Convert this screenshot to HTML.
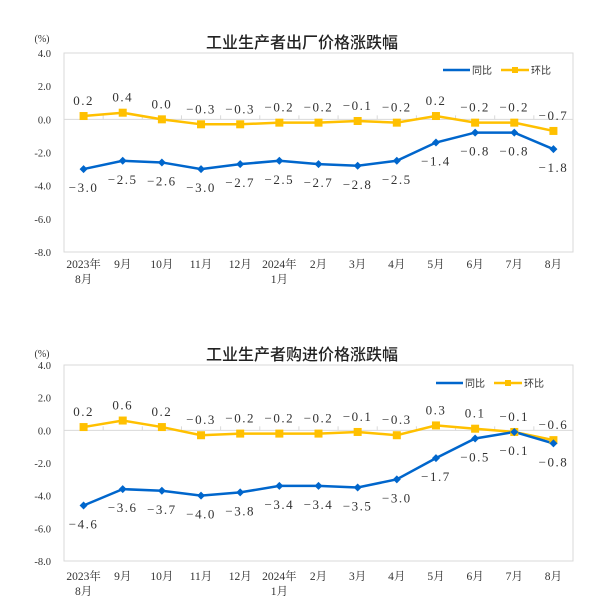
<!DOCTYPE html>
<html><head><meta charset="utf-8"><style>
html,body{margin:0;padding:0;background:#fff;width:604px;height:610px;overflow:hidden}
svg text{font-family:"Liberation Serif","Noto Serif CJK SC",serif}
</style></head><body>
<svg id="s" width="604" height="610" xmlns="http://www.w3.org/2000/svg"></svg>
<script>
var cats=[["2023年","8月"],["9月"],["10月"],["11月"],["12月"],["2024年","1月"],["2月"],["3月"],["4月"],["5月"],["6月"],["7月"],["8月"]];
var charts=[
{title:"工业生产者出厂价格涨跌幅",top:53,bot:252,ty:48,pct:42,xl:268,lg:70,lx:443,
 b:[-3.0,-2.5,-2.6,-3.0,-2.7,-2.5,-2.7,-2.8,-2.5,-1.4,-0.8,-0.8,-1.8],
 y:[0.2,0.4,0.0,-0.3,-0.3,-0.2,-0.2,-0.1,-0.2,0.2,-0.2,-0.2,-0.7]},
{title:"工业生产者购进价格涨跌幅",top:365,bot:561,ty:360,pct:357,xl:580,lg:383,lx:436,
 b:[-4.6,-3.6,-3.7,-4.0,-3.8,-3.4,-3.4,-3.5,-3.0,-1.7,-0.5,-0.1,-0.8],
 y:[0.2,0.6,0.2,-0.3,-0.2,-0.2,-0.2,-0.1,-0.3,0.3,0.1,-0.1,-0.6]}];
var h='';
function fmt(v){return v.toFixed(1).replace('-','−');}
charts.forEach(function(c){
 var L=64,R=573,T=c.top,B=c.bot,k=(B-T)/12,Y=function(v){return T+(4-v)*k;},cw=(R-L)/13,X=function(i){return L+cw*(i+.5);};
 h+='<rect x="'+L+'" y="'+T+'" width="'+(R-L)+'" height="'+(B-T)+'" fill="none" stroke="#d9d9d9" stroke-width="1"/>';
 h+='<text x="302" y="'+c.ty+'" text-anchor="middle" font-size="16" fill="#222" style="font-family:\'Noto Sans CJK SC\',sans-serif;font-weight:500">'+c.title+'</text>';
 h+='<text x="42" y="'+c.pct+'" text-anchor="middle" font-size="10" fill="#333">(%)</text>';
 for(var v=4;v>=-8;v-=2){h+='<text x="51" y="'+(Y(v)+4)+'" text-anchor="end" font-size="10.5" fill="#333">'+v.toFixed(1)+'</text>';}
 var z=Y(0);h+='<line x1="'+L+'" x2="'+R+'" y1="'+z+'" y2="'+z+'" stroke="#d9d9d9"/>';
 for(var i=1;i<13;i++){h+='<line x1="'+(L+cw*i)+'" x2="'+(L+cw*i)+'" y1="'+(z-4)+'" y2="'+z+'" stroke="#d9d9d9"/>';}
 cats.forEach(function(t,i){h+='<text x="'+X(i)+'" y="'+c.xl+'" text-anchor="middle" font-size="11.5" fill="#333">'+t[0]+'</text>';if(t[1])h+='<text x="'+X(i)+'" y="'+(c.xl+15)+'" text-anchor="middle" font-size="11.5" fill="#333">'+t[1]+'</text>';});
 var pb=c.b.map(function(v,i){return X(i)+','+Y(v)}).join(' '),py=c.y.map(function(v,i){return X(i)+','+Y(v)}).join(' ');
 h+='<polyline points="'+py+'" fill="none" stroke="#ffc000" stroke-width="2.5"/>';
 h+='<polyline points="'+pb+'" fill="none" stroke="#0066cc" stroke-width="2.5"/>';
 c.y.forEach(function(v,i){h+='<rect x="'+(X(i)-4)+'" y="'+(Y(v)-4)+'" width="8" height="8" fill="#ffc000"/>';
  h+='<text x="'+X(i)+'" y="'+(Y(v)-11)+'" text-anchor="middle" font-size="13" fill="#333" letter-spacing="1.5">'+fmt(v)+'</text>';});
 c.b.forEach(function(v,i){var x=X(i),y=Y(v);h+='<polygon points="'+x+','+(y-4)+' '+(x+4)+','+y+' '+x+','+(y+4)+' '+(x-4)+','+y+'" fill="#0066cc"/>';
  h+='<text x="'+x+'" y="'+(y+23)+'" text-anchor="middle" font-size="13" fill="#333" letter-spacing="1.5">'+fmt(v)+'</text>';});
 var lx=c.lx,ly=c.lg;
 h+='<line x1="'+lx+'" x2="'+(lx+27)+'" y1="'+ly+'" y2="'+ly+'" stroke="#0066cc" stroke-width="2.5"/><text x="'+(lx+29)+'" y="'+(ly+4)+'" font-size="10" fill="#333" style="font-family:\'Noto Sans CJK SC\',sans-serif">同比</text>';
 h+='<line x1="'+(lx+58)+'" x2="'+(lx+86)+'" y1="'+ly+'" y2="'+ly+'" stroke="#ffc000" stroke-width="2.5"/><rect x="'+(lx+69)+'" y="'+(ly-3)+'" width="6" height="6" fill="#ffc000"/><text x="'+(lx+88)+'" y="'+(ly+4)+'" font-size="10" fill="#333" style="font-family:\'Noto Sans CJK SC\',sans-serif">环比</text>';
});
document.getElementById('s').innerHTML=h;
</script>
</body></html>
